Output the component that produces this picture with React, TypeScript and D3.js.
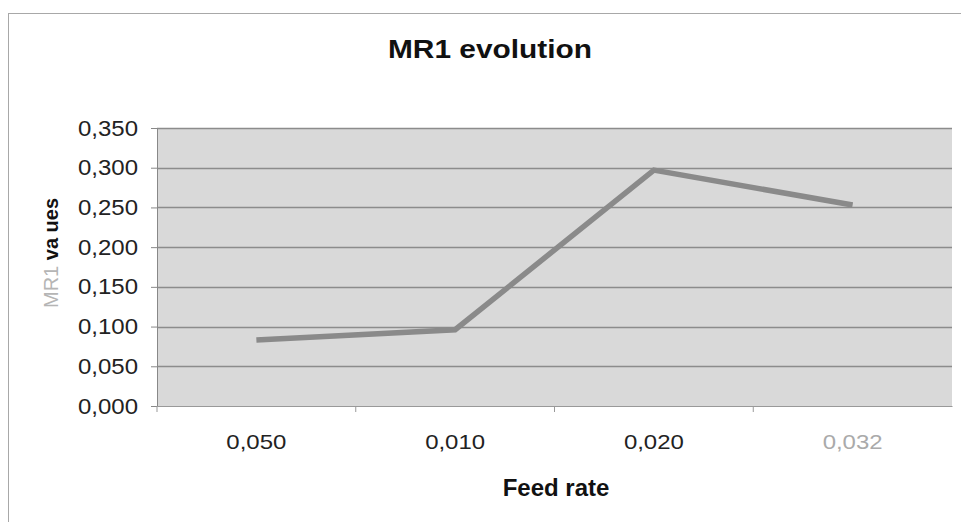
import * as React from 'react';
import * as d3 from 'd3';

const feedRates = ['0,050', '0,010', '0,020', '0,032'];
const mr1Values = [0.083, 0.096, 0.297, 0.253];
const yTicks = [0, 0.05, 0.1, 0.15, 0.2, 0.25, 0.3, 0.35];
const chartTitle = 'MR1 evolution';
const xTitle = 'Feed rate';

const W = 961;
const H = 522;
const margin = { top: 128, right: 9, bottom: 116, left: 157 };
const font = '"Liberation Sans", Arial, sans-serif';

const fmt = (v: number) => v.toFixed(3).replace('.', ',');

export default function App() {
  const ref = React.useRef<SVGSVGElement>(null);

  React.useEffect(() => {
    const svg = d3.select(ref.current);
    svg.selectAll('*').remove();

    const innerW = W - margin.left - margin.right;
    const innerH = H - margin.top - margin.bottom;

    // outer chart frame
    svg.append('rect')
      .attr('x', 8.5).attr('y', 13.5)
      .attr('width', W - 8).attr('height', H)
      .attr('fill', '#fff').attr('stroke', '#a8a8a8');

    svg.append('text')
      .attr('x', 490).attr('y', 58)
      .attr('text-anchor', 'middle')
      .attr('font-family', font).attr('font-size', 26).attr('font-weight', 'bold')
      .attr('textLength', 204).attr('lengthAdjust', 'spacingAndGlyphs')
      .attr('fill', '#111')
      .text(chartTitle);

    const g = svg.append('g').attr('transform', `translate(${margin.left},${margin.top})`);

    const x = d3.scaleBand().domain(feedRates).range([0, innerW]);
    const y = d3.scaleLinear().domain([0, 0.35]).range([innerH, 0]);

    g.append('rect')
      .attr('width', innerW).attr('height', innerH)
      .attr('fill', '#d9d9d9');

    g.selectAll('line.grid')
      .data(yTicks.filter(t => t > 0))
      .enter().append('line')
      .attr('class', 'grid')
      .attr('x1', 0).attr('x2', innerW)
      .attr('y1', d => Math.round(y(d)) + 0.5).attr('y2', d => Math.round(y(d)) + 0.5)
      .attr('stroke', '#8c8c8c').attr('stroke-width', 1.5);

    const yAxis = d3.axisLeft(y).tickValues(yTicks).tickSize(6).tickPadding(13).tickFormat((d: any) => fmt(d));
    const yg = g.append('g').call(yAxis);
    yg.select('.domain').attr('stroke', '#888');
    yg.selectAll('.tick line').attr('stroke', '#888');
    yg.selectAll('.tick text')
      .attr('font-family', font).attr('font-size', 22).attr('fill', '#222')
      .attr('textLength', 60).attr('lengthAdjust', 'spacingAndGlyphs');

    const xAxis = d3.axisBottom(x).tickSize(0).tickPadding(28);
    const xg = g.append('g').attr('transform', `translate(0,${innerH})`).call(xAxis);
    xg.select('.domain').attr('stroke', '#999');
    xg.selectAll('.tick text')
      .attr('font-family', font).attr('font-size', 21)
      .attr('textLength', 60).attr('lengthAdjust', 'spacingAndGlyphs')
      .attr('fill', (d: any) => (d === '0,032' ? '#aaa' : '#222'));
    // category separators
    g.selectAll('line.sep')
      .data(feedRates)
      .enter().append('line')
      .attr('class', 'sep')
      .attr('x1', d => x(d)!).attr('x2', d => x(d)!)
      .attr('y1', innerH).attr('y2', innerH + 6)
      .attr('stroke', '#999');

    const line = d3.line<number>()
      .x((_, i) => x(feedRates[i])! + x.bandwidth() / 2)
      .y(d => y(d));
    g.append('path')
      .datum(mr1Values)
      .attr('d', line)
      .attr('fill', 'none')
      .attr('stroke', '#8a8a8a')
      .attr('stroke-width', 5.5);

    svg.append('text')
      .attr('x', 556).attr('y', 496)
      .attr('text-anchor', 'middle')
      .attr('font-family', font).attr('font-size', 24).attr('font-weight', 'bold')
      .attr('fill', '#111')
      .text(xTitle);

    const yt = svg.append('text')
      .attr('transform', 'translate(58,253) rotate(-90)')
      .attr('text-anchor', 'middle')
      .attr('font-family', font).attr('font-size', 20);
    yt.append('tspan').attr('fill', '#b5b5b5').text('MR1 ');
    yt.append('tspan').attr('fill', '#111').attr('font-weight', 'bold').text('va ues');
  }, []);

  return (
    <svg
      ref={ref}
      width={W}
      height={H}
      style={{ position: 'absolute', left: 0, top: 0, background: '#fff' }}
    />
  );
}
